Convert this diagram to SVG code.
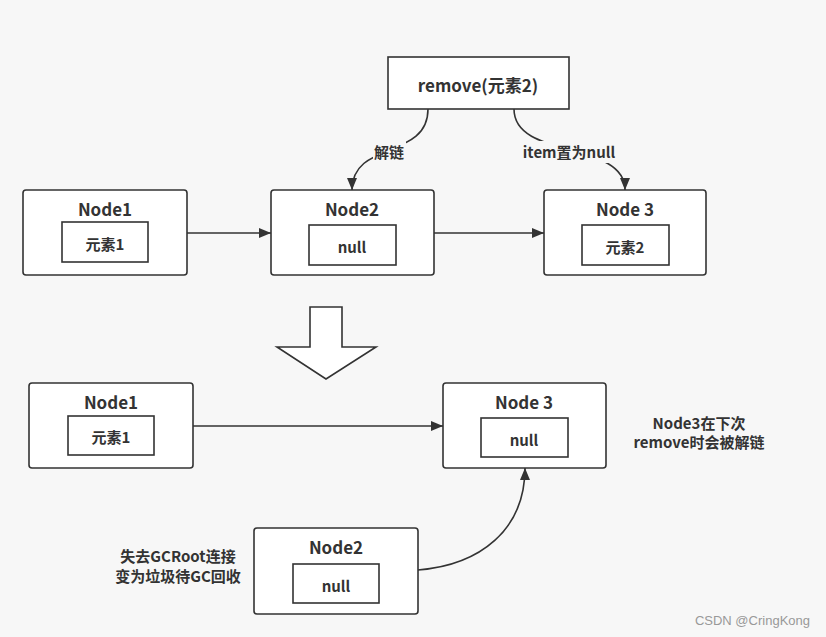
<svg xmlns="http://www.w3.org/2000/svg" width="826" height="637" viewBox="0 0 826 637">
<defs>
<marker id="ah" viewBox="0 0 12 10" refX="12" refY="5" markerWidth="12" markerHeight="10" markerUnits="userSpaceOnUse" orient="auto">
<path d="M0,0 L12,5 L0,10 z" fill="#333"/>
</marker>
<style>
.outer{fill:#fff;stroke:#333;stroke-width:1.6}
.inner{fill:#fff;stroke:#333;stroke-width:1.6}
.t{font-family:"Noto Sans CJK SC","Noto Sans",sans-serif;font-weight:bold;fill:#333;text-anchor:middle;dominant-baseline:central}
.title{font-size:17px}
.val{font-size:15px}
.lbl{font-size:15px}
.conn{fill:none;stroke:#333;stroke-width:1.6}
</style>
</defs>
<rect width="826" height="637" fill="#f7f7f7"/>

<g id="remove">
<rect x="388" y="57" width="181" height="52" fill="#fff" stroke="#333" stroke-width="1.6"/>
<text class="t title" x="478" y="84">remove(元素2)</text>
</g>

<g id="node1-top">
<rect class="outer" x="23" y="190" width="164" height="85" rx="3"/>
<text class="t title" x="105" y="208">Node1</text>
<rect class="inner" x="62" y="222" width="86" height="40"/>
<text class="t val" x="105" y="243">元素1</text>
</g>

<g id="node2-top">
<rect class="outer" x="271" y="190" width="163" height="85" rx="3"/>
<text class="t title" x="352" y="208">Node2</text>
<rect class="inner" x="309" y="225" width="87" height="40"/>
<text class="t val" x="352" y="246">null</text>
</g>

<g id="node3-top">
<rect class="outer" x="544" y="190" width="162" height="85" rx="3"/>
<text class="t title" x="625" y="208">Node 3</text>
<rect class="inner" x="582" y="225" width="87" height="40"/>
<text class="t val" x="625" y="246">元素2</text>
</g>

<g id="big-arrow">
<path d="M310,307 L342,307 L342,347 L376,347 L326,379 L277,347 L310,347 Z" fill="#fff" stroke="#333" stroke-width="1.6" stroke-linejoin="miter"/>
</g>

<g id="node1-bottom">
<rect class="outer" x="29" y="383" width="164" height="85" rx="3"/>
<text class="t title" x="111" y="401">Node1</text>
<rect class="inner" x="68" y="416" width="86" height="39"/>
<text class="t val" x="111" y="436">元素1</text>
</g>

<g id="node3-bottom">
<rect class="outer" x="443" y="383" width="163" height="85" rx="3"/>
<text class="t title" x="524" y="401">Node 3</text>
<rect class="inner" x="481" y="418" width="87" height="39"/>
<text class="t val" x="524" y="439">null</text>
</g>

<g id="node2-bottom">
<rect class="outer" x="254" y="528" width="164" height="86" rx="3"/>
<text class="t title" x="336" y="546">Node2</text>
<rect class="inner" x="293" y="564" width="86" height="39"/>
<text class="t val" x="336" y="585">null</text>
</g>

<g id="notes">
<text class="t lbl" x="699" y="422">Node3在下次</text>
<text class="t lbl" x="699" y="441">remove时会被解链</text>
<text class="t lbl" x="178" y="555">失去GCRoot连接</text>
<text class="t lbl" x="178" y="575">变为垃圾待GC回收</text>
<text x="810" y="620" font-family="'Liberation Sans',Arial,sans-serif" font-size="13" fill="#999" text-anchor="end" dominant-baseline="central">CSDN @CringKong</text>
</g>

<g id="connectors">
<line class="conn" x1="187" y1="233" x2="271" y2="233" marker-end="url(#ah)"/>
<line class="conn" x1="434" y1="233" x2="544" y2="233" marker-end="url(#ah)"/>
<path class="conn" d="M428,109 C428,160 352,140 352,190" marker-end="url(#ah)"/>
<path class="conn" d="M514,109 C514,160 625,140 625,190" marker-end="url(#ah)"/>
<line class="conn" x1="193" y1="426" x2="443" y2="426" marker-end="url(#ah)"/>
<path class="conn" d="M418,570 C480,565 525,530 525,468" marker-end="url(#ah)"/>
<rect x="373" y="141" width="33" height="22" fill="#f7f7f7"/>
<text class="t lbl" x="389" y="151">解链</text>
<rect x="523" y="141" width="93" height="22" fill="#f7f7f7"/>
<text class="t lbl" x="569" y="151">item置为null</text>
</g>
</svg>
